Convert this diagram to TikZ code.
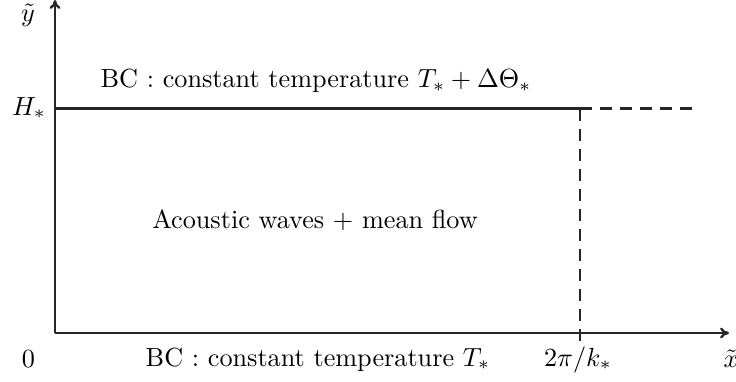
\documentclass[tikz,border=0pt]{standalone}
\usetikzlibrary{arrows.meta}
\begin{document}
\begin{tikzpicture}[x=1pt,y=-1pt,
  lab/.style={inner sep=0pt,scale=2.62,transform shape,anchor=base},
  ln/.style={line width=2.3pt,draw=black!85},
  dsh/.style={ln,dash pattern=on 12pt off 8pt},
  arr/.style={ln,-{To[length=9pt,width=11pt]}}]
\useasboundingbox (0,0) rectangle (736,381);
\coordinate (O) at (55,333);
\coordinate (ytop) at (55,0);
\coordinate (xend) at (729,333);
\coordinate (HL) at (55,108.5);
\coordinate (HR) at (580,108.5);
\coordinate (Hdash) at (693,108.5);
\coordinate (Pbot) at (580,348);
\draw[arr] (O) -- (ytop);
\draw[arr] (O) -- (xend);
\draw[ln] (HL) -- (HR);
\draw[dsh] (HR) -- (Hdash);
\draw[dsh] (HR) -- (Pbot);
\node[lab] (ylab) at (28,21) {$\tilde y$};
\node[lab] (Hlab) at (29,115) {$H_*$};
\node[lab] (zero) at (28.5,367.5) {$0$};
\node[lab] (xlab) at (731,367) {$\tilde x$};
\node[lab] (klab) at (578,366) {$2\pi/k_*$};
\node[lab] (topbc) at (316,87.7) {BC : constant temperature $T_*+\Delta\Theta_*$};
\node[lab] (botbc) at (318,366) {BC : constant temperature $T_*$};
\node[lab] (mid) at (315,228) {Acoustic waves $+$ mean flow};
\end{tikzpicture}
\end{document}
